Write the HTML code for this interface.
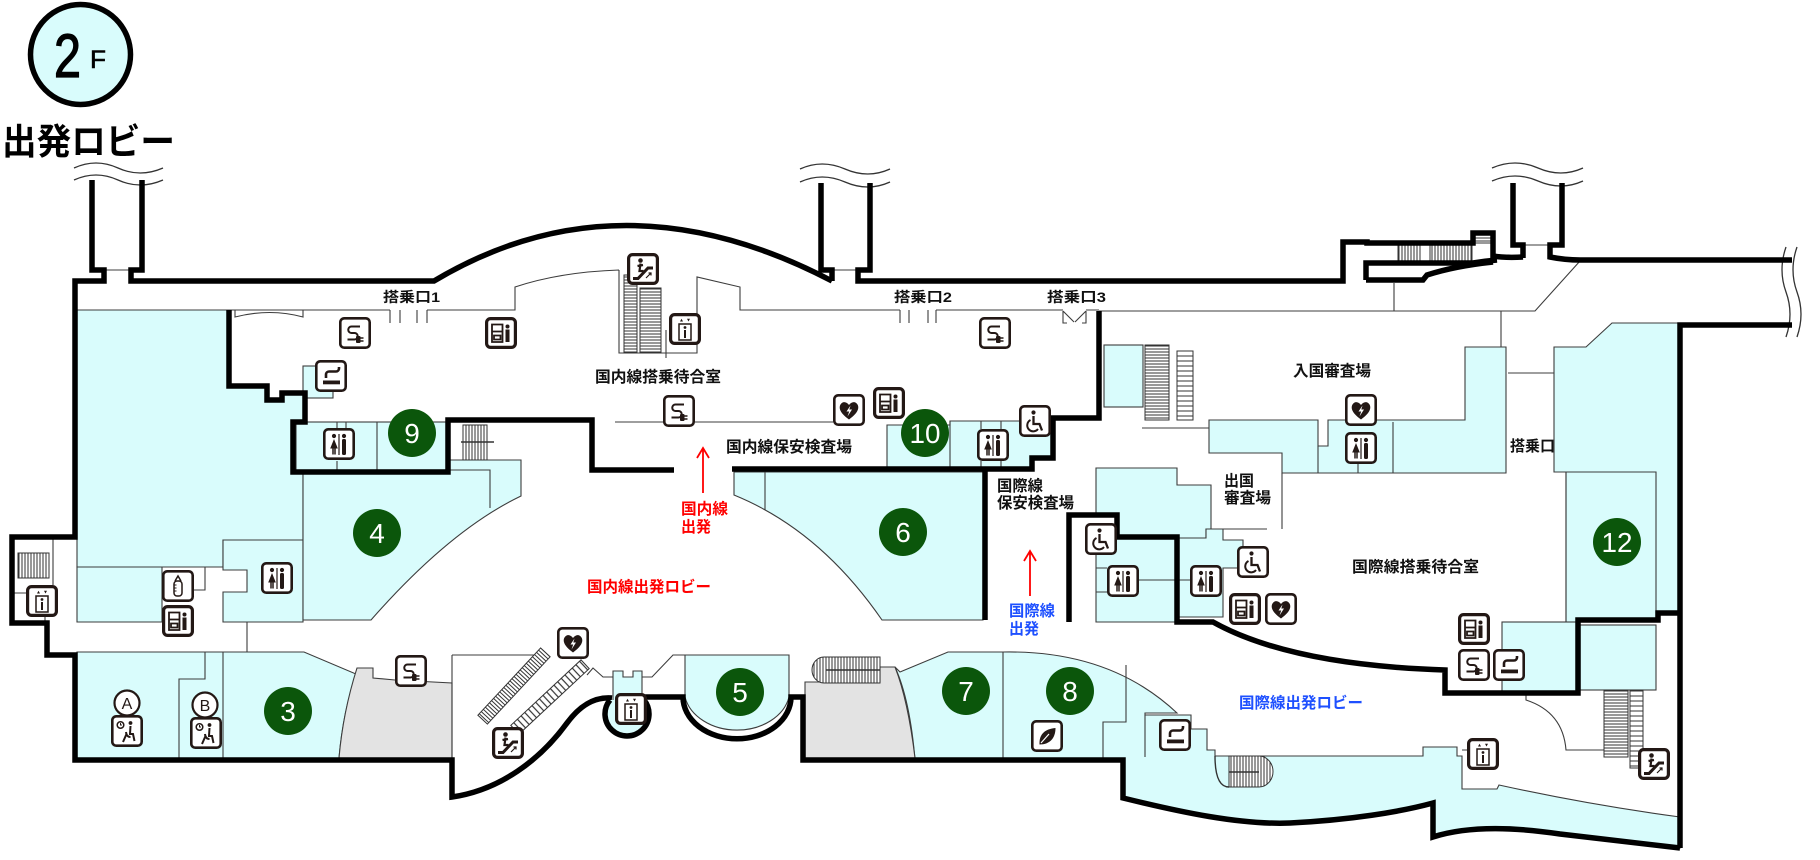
<!DOCTYPE html>
<html><head><meta charset="utf-8"><style>
html,body{margin:0;padding:0;background:#fff;}
svg{display:block;}
text{font-family:"Liberation Sans","Noto Sans CJK JP",sans-serif;}
</style></head><body>
<svg xmlns="http://www.w3.org/2000/svg" xmlns:xlink="http://www.w3.org/1999/xlink" width="1820" height="860" viewBox="0 0 1820 860">
<defs>
<pattern id="hh" patternUnits="userSpaceOnUse" width="6" height="3"><rect width="6" height="3" fill="#fff"/><line x1="0" y1="1" x2="6" y2="1" stroke="#333" stroke-width="1"/></pattern>
<pattern id="hh5" patternUnits="userSpaceOnUse" width="6" height="5"><rect width="6" height="5" fill="#fff"/><line x1="0" y1="1" x2="6" y2="1" stroke="#333" stroke-width="1"/></pattern>
<pattern id="hv" patternUnits="userSpaceOnUse" width="3" height="6"><rect width="3" height="6" fill="#fff"/><line x1="1" y1="0" x2="1" y2="6" stroke="#333" stroke-width="1"/></pattern>
<pattern id="hv5" patternUnits="userSpaceOnUse" width="5" height="6"><rect width="5" height="6" fill="#fff"/><line x1="1" y1="0" x2="1" y2="6" stroke="#333" stroke-width="1.2"/></pattern>

<g id="pw">
 <rect x="1.3" y="1.3" width="29.4" height="29.4" rx="4" fill="#fff" stroke="#231815" stroke-width="2.6"/>
 <path d="M21,9.5 H12.5 A3.2,3.2 0 0 0 12.5,16 H15.5 A3.2,3.2 0 0 1 15.5,22.5 H8.5" fill="none" stroke="#231815" stroke-width="2"/>
 <rect x="17" y="19" width="4.5" height="7" rx="1" fill="#231815"/>
 <path d="M21.5,21 H24.5 M21.5,24 H24.5" stroke="#231815" stroke-width="1.4"/>
</g>
<g id="vd">
 <rect x="1.6" y="1.6" width="28.8" height="28.8" rx="4" fill="#fff" stroke="#231815" stroke-width="3.2"/>
 <path d="M7,7.5 H17.5 V25 H7 Z M7,14.5 H17.5 M9,18.5 H15.5 V22.5 H9 Z" fill="none" stroke="#231815" stroke-width="1.8"/>
 <circle cx="22.5" cy="9.5" r="2" fill="#231815"/>
 <path d="M20.5,12.5 H24.5 V25 H20.5 Z" fill="#231815"/>
</g>
<g id="wc">
 <rect x="1.3" y="1.3" width="29.4" height="29.4" rx="4" fill="#fff" stroke="#231815" stroke-width="2.6"/>
 <circle cx="11" cy="8" r="2.1" fill="#231815"/>
 <path d="M11,11 L14.8,20.5 H7.2 Z" fill="#231815"/>
 <path d="M10,20 V26.5 M12,20 V26.5" stroke="#231815" stroke-width="1.5"/>
 <path d="M16,6 V27" stroke="#231815" stroke-width="1.2"/>
 <circle cx="21" cy="8" r="2.1" fill="#231815"/>
 <rect x="19" y="11" width="4" height="16" rx="1.5" fill="#231815"/>
</g>
<g id="ae">
 <rect x="1.3" y="1.3" width="29.4" height="29.4" rx="4" fill="#fff" stroke="#231815" stroke-width="2.6"/>
 <path d="M16,25.5 C7,19 5.5,14 7.5,10.5 C9.5,7 13.5,7.5 16,11 C18.5,7.5 22.5,7 24.5,10.5 C26.5,14 25,19 16,25.5 Z" fill="#231815"/>
 <path d="M17.5,11.5 L13.5,17.5 H16.2 L14.5,22.5 L19,15.5 H16.3 Z" fill="#fff"/>
</g>
<g id="el">
 <rect x="1.6" y="1.6" width="28.8" height="28.8" rx="4" fill="#fff" stroke="#231815" stroke-width="3.2"/>
 <rect x="10" y="11" width="12" height="16" fill="none" stroke="#231815" stroke-width="1.5"/>
 <circle cx="16" cy="14.5" r="1.4" fill="#231815"/>
 <rect x="15" y="17" width="2" height="8" fill="#231815"/>
 <path d="M11,8.5 L12.5,5.8 L14,8.5 Z M18,5.8 L19.5,8.5 L21,5.8 Z" fill="#231815"/>
</g>
<g id="es">
 <rect x="1.6" y="1.6" width="28.8" height="28.8" rx="4" fill="#fff" stroke="#231815" stroke-width="3.2"/>
 <path d="M6,25.5 H11 L21,15 H26" fill="none" stroke="#231815" stroke-width="3"/>
 <circle cx="13.5" cy="7.5" r="2.3" fill="#231815"/>
 <path d="M13.5,10.5 L12.5,18 H16.5 M10.5,13 L16,12" fill="none" stroke="#231815" stroke-width="2.2"/>
 <path d="M19,25 L24,20 M21.5,20 H24 V22.5" fill="none" stroke="#231815" stroke-width="1.2"/>
</g>
<g id="sm">
 <rect x="1.3" y="1.3" width="29.4" height="29.4" rx="4" fill="#fff" stroke="#231815" stroke-width="2.6"/>
 <path d="M11,18 V14.5 A3,3 0 0 1 14,11.5 H21 A3,3 0 0 0 24,8.5 V7" fill="none" stroke="#231815" stroke-width="2.6"/>
 <rect x="8" y="20.5" width="17" height="3.8" fill="#231815"/>
</g>
<g id="wh">
 <rect x="1.3" y="1.3" width="29.4" height="29.4" rx="4" fill="#fff" stroke="#231815" stroke-width="2.6"/>
 <circle cx="14.5" cy="7.5" r="2.1" fill="#231815"/>
 <path d="M14.5,11 V19 H20.5 L23,25.5" fill="none" stroke="#231815" stroke-width="2.3"/>
 <path d="M11.5,15 A6,6 0 1 0 19,24" fill="none" stroke="#231815" stroke-width="2"/>
</g>
<g id="bt">
 <rect x="1.3" y="1.3" width="29.4" height="29.4" rx="4" fill="#fff" stroke="#231815" stroke-width="2.6"/>
 <rect x="12" y="11" width="8" height="15" rx="3" fill="none" stroke="#231815" stroke-width="1.5"/>
 <path d="M13,11 L16,6 L19,11" fill="none" stroke="#231815" stroke-width="1.5"/>
 <path d="M12,15 h2.5 M12,18 h2.5 M12,21 h2.5" stroke="#231815" stroke-width="1"/>
</g>
<g id="lf">
 <rect x="1.3" y="1.3" width="29.4" height="29.4" rx="4" fill="#fff" stroke="#231815" stroke-width="2.6"/>
 <path d="M8.5,24.5 C8,15 13,9 24.5,8 C24.5,18 19,24.5 8.5,24.5 Z" fill="#231815"/>
 <path d="M10,23 L18,14" stroke="#fff" stroke-width="1.2"/>
</g>
<g id="lg">
 <rect x="1.3" y="1.3" width="29.4" height="29.4" rx="4" fill="#fff" stroke="#231815" stroke-width="2.6"/>
 <circle cx="9.5" cy="10" r="3.3" fill="none" stroke="#231815" stroke-width="1.5"/>
 <path d="M9.5,8 V10 H11" stroke="#231815" stroke-width="1" fill="none"/>
 <circle cx="19.5" cy="8" r="1.9" fill="#231815"/>
 <path d="M19.5,11 L19,19 H22 L23.5,26 M15,17 Q15.5,22 19.5,22 M12,27 L15.5,19" fill="none" stroke="#231815" stroke-width="2"/>
</g>
</defs>

<!-- header -->
<circle cx="80.5" cy="54.5" r="50" fill="#d9fcfc" stroke="#000" stroke-width="5.5"/>
<text x="54" y="77" font-size="61" textLength="27" lengthAdjust="spacingAndGlyphs" fill="#000" stroke="#000" stroke-width="1.3">2</text>
<text x="90" y="68" font-size="25" textLength="16" lengthAdjust="spacingAndGlyphs" fill="#000" stroke="#000" stroke-width="0.6">F</text>
<text x="2" y="154" font-size="36" font-weight="bold" textLength="173" lengthAdjust="spacingAndGlyphs" fill="#000">出発ロビー</text>

<!-- cyan regions -->
<g fill="#d9fcfc" stroke="#3c3c3c" stroke-width="1.1">
 <path d="M77,310 H229 V386 H267 V400 H282 V393 H305 V422 H293 V472 H303 V540 H223 V567 H77 Z"/>
 <path d="M77,567 H162 V622 H77 Z"/>
 <path d="M223,540 H303 V622 H223 V592 H247 V570 H223 Z"/>
 <rect x="296" y="422" width="151" height="48"/>
 <path d="M303,472 H448 V460 H521 V496 Q450,530 371,620 H303 Z"/>
 <path d="M77,652 H304 L356,674 Q343,712 339,758 H77 Z"/>
 <rect x="303" y="366" width="30" height="32"/>
 <path d="M685,655 H789 V697 A53,41 0 0 1 685,697 Z"/>
 <path d="M613,671 H623 V677 H633 V671 H642 V702 H613 Z"/>
 <path d="M734,472 H983 V620 H882 Q820,530 734,495 Z"/>
 <path d="M887,425 H950 V421 H1053 V458 H1032 V469 H887 Z"/>
 <rect x="1104" y="345" width="39" height="62"/>
 <path d="M1209,420 H1318 V446 H1328 V420 H1465 V347 H1506 V473 H1282 V453 H1209 Z"/>
 <path d="M1554,347 H1586 L1612,323 H1680 V613 H1656 V620 H1578 V622 H1566 V472 H1554 Z"/>
 <rect x="1502" y="622" width="76" height="70"/>
 <rect x="1580" y="625" width="76" height="65"/>
 <path d="M1096,468 H1177 V485 H1211 V529 H1206 V538 H1177 V537 H1117 V515 H1096 Z"/>
 <path d="M1096,538 H1177 V622 H1096 Z"/>
 <path d="M1178,538 H1206 V529 H1223 V540 H1243 V568 H1223 V617 H1178 Z"/>
 <path d="M895,667 L900,672 L948,652 H1003 Q1110,650 1177,713 H1145 V715 H1191 V729 H1207 V750 H1215 V756 H1423 V747 H1457 V756 H1462 V789 H1497 L1499,785 Q1590,805 1680,817 V848 L1560,834 Q1480,822 1433,837 V803 C1400,812 1350,820 1290,823 C1240,825 1180,812 1123,798 V760 H915 Q910,700 895,667 Z"/>
</g>
<g fill="#e3e3e3" stroke="#3c3c3c" stroke-width="1.1">
 <path d="M357,668 H373 V678 L395,680 L452,683 V758 H339 Q343,712 357,668 Z"/>
 <path d="M805,682 H880 V667 H895 Q908,700 915,758 H805 Z"/>
</g>

<!-- thin lines -->
<path fill="none" stroke="#3c3c3c" stroke-width="1.1" d="
M77,310 H390 M427,310 H515 V287 Q560,272 619,270
M390,310 V323 M400,310 V323 M417,310 V323 M427,310 V323
M619,270 V353 H697 V277 L740,287 V310 H900 M936,310 H1063 M1086,310 H1099
M900,310 V323 M909,310 V323 M928,310 V323 M936,310 V323
M1063,311 V323 H1067 M1063,311 L1074,322 M1086,311 V323 H1082 M1086,311 L1075,322
M1099,311 H1535 L1580,261
M1394,283 V311
M1501,311 V347
M1508,373 H1554
M666,330 V358
M615,422 H833
M235,310 V317 Q270,308 303,317 V310
M377,422 V470 M337,422 V428 M346,422 V428 M337,461 V470
M450,470 H490 V508
M53,538 V585 M12,593 H26 M45,617 V623
M205,652 V679 H179 V758 M223,652 V758 M247,622 V652
M193,590 H205 V567
M452,655 H543 M452,655 V760
M587,675 L593,668 L603,677 L613,677
M642,677 H652 L673,655 H685
M1003,652 V758
M1126,665 V722 H1103 V758
M1145,715 V757
M1462,750 H1467
M1526,692 V700 Q1563,712 1566,750 H1604
M1142,428 H1209
M1318,446 V473 M1393,422 V473 M1358,463 V473
M1282,473 V529 M1206,529 H1267
M1138,580 H1190
M1096,568 H1107 M1096,592 H1107
M1554,472 H1656 V613 M1566,472 V622
M950,421 V469 M981,421 V429 M1001,421 V429 M981,461 V469 M1001,461 V469
M765,472 V510
M104,270 H131 M832,270 H858 M1523,245 H1550
"/>

<!-- wave breaks -->
<path fill="none" stroke="#333" stroke-width="1.3" d="
M74,168 Q96,158 118,168 T163,168 M74,180 Q96,170 118,180 T163,180
M800,169 Q822,159 845,169 T890,169 M800,182 Q822,172 845,182 T890,182
M1492,168 Q1515,158 1538,168 T1583,168 M1492,181 Q1515,171 1538,181 T1583,181
M1786,247 Q1778,270 1786,292 T1786,337 M1797,247 Q1789,270 1797,292 T1797,337
"/>

<!-- stairs / escalators -->
<g stroke="#333" stroke-width="1">
 <rect x="624" y="275" width="13" height="78" fill="url(#hh)"/>
 <rect x="640" y="288" width="21" height="65" fill="url(#hh)"/>
 <rect x="463" y="425" width="24" height="35" fill="url(#hv)"/>
 <rect x="1145" y="345" width="24" height="75" fill="url(#hh)"/>
 <rect x="1177" y="351" width="16" height="69" fill="url(#hh5)"/>
 <rect x="1398" y="245" width="22" height="17" fill="url(#hv)"/>
 <rect x="1430" y="245" width="42" height="17" fill="url(#hv)"/>
 <rect x="1475" y="235" width="18" height="8" fill="url(#hh)"/>
 <rect x="18" y="553" width="31" height="25" fill="url(#hv)"/>
 <path d="M880,657 H824 A12,13 0 0 0 824,683 H880 Z" fill="url(#hv)"/>
 <path d="M1229,756 H1259 A14,15.5 0 0 1 1259,787 H1229 Z" fill="url(#hv)"/>
 <rect x="1604" y="690" width="24" height="67" fill="url(#hh)"/>
 <rect x="1630" y="690" width="13" height="78" fill="url(#hh5)"/>
 <g transform="translate(514,686) rotate(-47)"><rect x="-46" y="-6.5" width="92" height="13" fill="url(#hv)"/></g>
 <g transform="translate(550,697) rotate(-43)"><rect x="-48" y="-6" width="96" height="12" fill="url(#hv5)"/></g>
</g>
<path d="M461,442 H494 M826,670 H880 M1229,772 H1259 M1215,756 Q1215,787 1229,787" stroke="#333" stroke-width="1.4" fill="none"/>

<!-- thick walls -->
<g fill="none" stroke="#000" stroke-width="5.5" stroke-linejoin="miter">
 <path d="M92,180 V270 H104 V281 H75 V537 H12 V623 H47 V655 H75 V760 H452 V797 C500,790 540,760 567,723 C584,700 600,697 612,698"/>
 <path d="M142,180 V270 H131 V281 H434 Q620,170 832,281"/>
 <path d="M821,183 V270 H832 V281"/>
 <path d="M870,183 V270 H858 V281 H1343 V242 H1367 V243 H1473 V233 H1493 V256 Q1505,258 1523,257"/>
 <path d="M1513,183 V245 H1523 V258"/>
 <path d="M1562,183 V245 H1550 V257 Q1565,260 1580,260 H1792"/>
 <path d="M1792,325 H1680 V848"/>
 <path d="M1366,280 V263 H1473 Q1485,261 1497,260"/>
 <path d="M1366,280 H1423 L1427,275 Q1455,266 1493,262"/>
 <path d="M610,700 A22,22 0 1 0 644,700" fill="#d9fcfc"/>
 <path d="M644,697 H683 A53,41 0 0 0 791,697 H803 V760 H1123 V798 C1180,812 1240,825 1290,823 C1350,820 1400,812 1433,803 V837 Q1480,822 1560,834 L1680,848"/>
 <path d="M229,310 V386 H267 V400 H282 V393 H305 V422 H293 V472 H448 V420 H592 V470 H674"/>
 <path d="M732,469 H1032 V458 H1053 V418 H1099 V311"/>
 <path d="M985,469 V620"/>
 <path d="M1069,622 V515 H1117 V537 H1177 V622 H1213 Q1290,665 1445,670 V693 H1578 V620 H1658 V613 H1680"/>
</g>

<!-- icons -->
<use xlink:href="#pw" x="339" y="317"/>
<use xlink:href="#pw" x="663" y="395"/>
<use xlink:href="#pw" x="979" y="317"/>
<use xlink:href="#pw" x="1458" y="649"/>
<use xlink:href="#pw" x="395" y="655"/>
<use xlink:href="#vd" x="485" y="317"/>
<use xlink:href="#vd" x="873" y="387"/>
<use xlink:href="#vd" x="1229" y="593"/>
<use xlink:href="#vd" x="1458" y="613"/>
<use xlink:href="#vd" x="162" y="605"/>
<use xlink:href="#sm" x="315" y="360"/>
<use xlink:href="#sm" x="1493" y="649"/>
<use xlink:href="#sm" x="1159" y="719"/>
<use xlink:href="#es" x="627" y="253"/>
<use xlink:href="#es" x="1638" y="748"/>
<use xlink:href="#es" x="492" y="727"/>
<use xlink:href="#el" x="669" y="313"/>
<use xlink:href="#el" x="1467" y="738"/>
<use xlink:href="#el" x="26" y="585"/>
<use xlink:href="#el" x="615" y="693"/>
<use xlink:href="#ae" x="833" y="394"/>
<use xlink:href="#ae" x="1345" y="394"/>
<use xlink:href="#ae" x="1265" y="593"/>
<use xlink:href="#ae" x="557" y="627"/>
<use xlink:href="#wc" x="323" y="428"/>
<use xlink:href="#wc" x="977" y="429"/>
<use xlink:href="#wc" x="1345" y="432"/>
<use xlink:href="#wc" x="1107" y="565"/>
<use xlink:href="#wc" x="1190" y="565"/>
<use xlink:href="#wc" x="261" y="562"/>
<use xlink:href="#wh" x="1019" y="405"/>
<use xlink:href="#wh" x="1085" y="523"/>
<use xlink:href="#wh" x="1237" y="546"/>
<use xlink:href="#bt" x="162" y="570"/>
<use xlink:href="#lf" x="1031" y="720"/>
<use xlink:href="#lg" x="111" y="715"/>
<use xlink:href="#lg" x="190" y="717"/>

<!-- A / B -->
<circle cx="127" cy="703" r="12.5" fill="#fff" stroke="#231815" stroke-width="2.2"/>
<text x="127" y="709" font-size="16" text-anchor="middle" fill="#231815">A</text>
<circle cx="205" cy="705" r="12.5" fill="#fff" stroke="#231815" stroke-width="2.2"/>
<text x="205" y="711" font-size="16" text-anchor="middle" fill="#231815">B</text>

<!-- green numbered circles -->
<g fill="#0b560b">
 <circle cx="412" cy="433" r="24"/>
 <circle cx="925" cy="433" r="24"/>
 <circle cx="377" cy="533" r="24"/>
 <circle cx="903" cy="532" r="24"/>
 <circle cx="288" cy="711" r="24"/>
 <circle cx="740" cy="692" r="24"/>
 <circle cx="966" cy="691" r="24"/>
 <circle cx="1070" cy="691" r="24"/>
 <circle cx="1617" cy="542" r="24"/>
</g>
<g fill="#fff" font-size="28" text-anchor="middle">
 <text x="412" y="443">9</text>
 <text x="925" y="443" textLength="31" lengthAdjust="spacingAndGlyphs">10</text>
 <text x="377" y="543">4</text>
 <text x="903" y="542">6</text>
 <text x="288" y="721">3</text>
 <text x="740" y="702">5</text>
 <text x="966" y="701">7</text>
 <text x="1070" y="701">8</text>
 <text x="1617" y="552" textLength="31" lengthAdjust="spacingAndGlyphs">12</text>
</g>

<!-- labels -->
<g fill="#111" font-weight="bold">
 <text x="383" y="302" font-size="14" textLength="57" lengthAdjust="spacingAndGlyphs">搭乗口1</text>
 <text x="894" y="302" font-size="14" textLength="58" lengthAdjust="spacingAndGlyphs">搭乗口2</text>
 <text x="1047" y="302" font-size="14" textLength="59" lengthAdjust="spacingAndGlyphs">搭乗口3</text>
 <text x="595" y="382" font-size="15.5" textLength="126" lengthAdjust="spacingAndGlyphs">国内線搭乗待合室</text>
 <text x="726" y="452" font-size="15.5" textLength="126" lengthAdjust="spacingAndGlyphs">国内線保安検査場</text>
 <text x="997" y="491" font-size="15.5" textLength="46" lengthAdjust="spacingAndGlyphs">国際線</text>
 <text x="997" y="508" font-size="15.5" textLength="77" lengthAdjust="spacingAndGlyphs">保安検査場</text>
 <text x="1293" y="376" font-size="15.5" textLength="78" lengthAdjust="spacingAndGlyphs">入国審査場</text>
 <text x="1224" y="486" font-size="15.5" textLength="30" lengthAdjust="spacingAndGlyphs">出国</text>
 <text x="1224" y="503" font-size="15.5" textLength="47" lengthAdjust="spacingAndGlyphs">審査場</text>
 <text x="1510" y="451" font-size="15" textLength="45" lengthAdjust="spacingAndGlyphs">搭乗口</text>
 <text x="1352" y="572" font-size="15.5" textLength="127" lengthAdjust="spacingAndGlyphs">国際線搭乗待合室</text>
</g>
<g fill="#ff0000" font-weight="bold">
 <text x="587" y="592" font-size="15.5" textLength="124" lengthAdjust="spacingAndGlyphs">国内線出発ロビー</text>
 <text x="681" y="514" font-size="15.5" textLength="47" lengthAdjust="spacingAndGlyphs">国内線</text>
 <text x="681" y="532" font-size="15.5" textLength="30" lengthAdjust="spacingAndGlyphs">出発</text>
</g>
<g fill="#1e50ff" font-weight="bold">
 <text x="1009" y="616" font-size="15.5" textLength="46" lengthAdjust="spacingAndGlyphs">国際線</text>
 <text x="1009" y="634" font-size="15.5" textLength="30" lengthAdjust="spacingAndGlyphs">出発</text>
 <text x="1239" y="708" font-size="15.5" textLength="124" lengthAdjust="spacingAndGlyphs">国際線出発ロビー</text>
</g>

<!-- arrows -->
<path d="M703,493 V449 M697,458 L703,448 L709,458 M1030,596 V552 M1024,561 L1030,551 L1036,561" fill="none" stroke="#ff0000" stroke-width="1.8"/>
</svg>
</body></html>
